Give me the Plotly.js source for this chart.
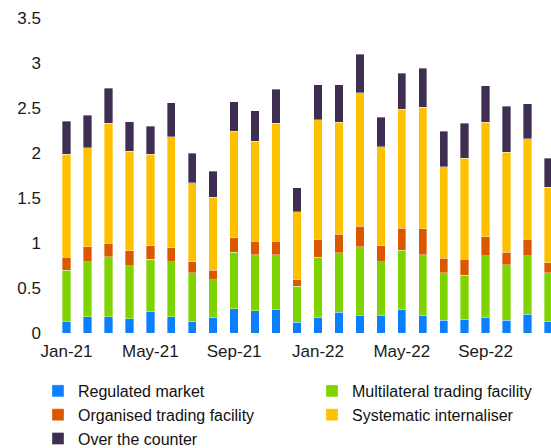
<!DOCTYPE html>
<html>
<head>
<meta charset="utf-8">
<script src="https://cdn.plot.ly/plotly-3.0.1.min.js"></script>
<style>html,body{margin:0;padding:0;background:#fff;}#chart{width:551px;height:448px;}</style>
</head>
<body>
<div id="chart"></div>
<script>
const months = ["Jan-21","Feb-21","Mar-21","Apr-21","May-21","Jun-21","Jul-21","Aug-21","Sep-21","Oct-21","Nov-21","Dec-21",
                "Jan-22","Feb-22","Mar-22","Apr-22","May-22","Jun-22","Jul-22","Aug-22","Sep-22","Oct-22","Nov-22","Dec-22"];
const regulatedMarket = [0.13,0.18,0.18,0.16,0.24,0.18,0.13,0.17,0.27,0.25,0.26,0.12,0.17,0.23,0.20,0.20,0.26,0.20,0.14,0.15,0.17,0.14,0.21,0.13];
const multilateralTF  = [0.57,0.61,0.67,0.59,0.58,0.61,0.54,0.42,0.63,0.62,0.61,0.40,0.67,0.66,0.76,0.59,0.66,0.67,0.53,0.49,0.69,0.62,0.65,0.54];
const organisedTF     = [0.14,0.17,0.15,0.165,0.15,0.16,0.12,0.11,0.16,0.15,0.15,0.07,0.20,0.21,0.225,0.18,0.245,0.29,0.16,0.18,0.21,0.14,0.18,0.11];
const systematicInt   = [1.145,1.10,1.33,1.105,1.015,1.23,0.88,0.81,1.18,1.11,1.31,0.76,1.33,1.24,1.485,1.10,1.32,1.35,1.02,1.12,1.27,1.11,1.12,0.84];
const overTheCounter  = [0.37,0.36,0.39,0.33,0.315,0.38,0.33,0.29,0.33,0.34,0.38,0.265,0.39,0.42,0.43,0.33,0.40,0.43,0.39,0.39,0.41,0.51,0.39,0.32];
const xTickLabels = ["Jan-21","May-21","Sep-21","Jan-22","May-22","Sep-22"];
const yTicks = [0,0.5,1,1.5,2,2.5,3,3.5];

const seriesNames = ["Regulated market","Multilateral trading facility","Organised trading facility","Systematic internaliser","Over the counter"];
const seriesData = [regulatedMarket, multilateralTF, organisedTF, systematicInt, overTheCounter];
const seriesColors = ["#0A80FF","#7ED300","#DC5800","#FFC000","#3E2F52"];
const legendIds = ["legend","legend2","legend","legend2","legend"];

const traces = seriesNames.map((n,i)=>({
  type:'bar', name:n, x:months, y:seriesData[i],
  marker:{color:seriesColors[i], line:{color:'rgba(255,255,255,0.6)', width:0.6}},
  legend:legendIds[i], hoverinfo:'skip'
}));

const tickFont = {family:'Liberation Sans, Arial, sans-serif', size:17, color:'#1a1a1a'};
const legFont = {family:'Liberation Sans, Arial, sans-serif', size:16, color:'#111'};

const layout = {
  width:551, height:448,
  margin:{l:56, r:0, t:18, b:115, autoexpand:false},
  paper_bgcolor:'#fff', plot_bgcolor:'#fff',
  barmode:'stack', bargap:0.6,
  showlegend:true,
  xaxis:{type:'category', range:[-0.5,23.12], tickvals:xTickLabels, ticktext:xTickLabels, tickangle:0, automargin:false,
         showgrid:false, zeroline:false, showline:false, ticks:'', tickfont:tickFont, ticklabelstandoff:6, fixedrange:true},
  yaxis:{range:[0,3.5], tickvals:yTicks, showgrid:false, zeroline:false, showline:false, ticks:'', automargin:false,
         tickfont:tickFont, ticklabelstandoff:14, fixedrange:true},
  legend:{xref:'container', yref:'container', x:38/551, y:1-374/448, xanchor:'left', yanchor:'top',
          orientation:'v', traceorder:'normal', font:legFont, bgcolor:'rgba(0,0,0,0)', borderwidth:0},
  legend2:{xref:'container', yref:'container', x:312/551, y:1-374/448, xanchor:'left', yanchor:'top',
          orientation:'v', traceorder:'normal', font:legFont, bgcolor:'rgba(0,0,0,0)', borderwidth:0}
};

Plotly.newPlot('chart', traces, layout, {displayModeBar:false, staticPlot:true});
</script>
</body>
</html>
